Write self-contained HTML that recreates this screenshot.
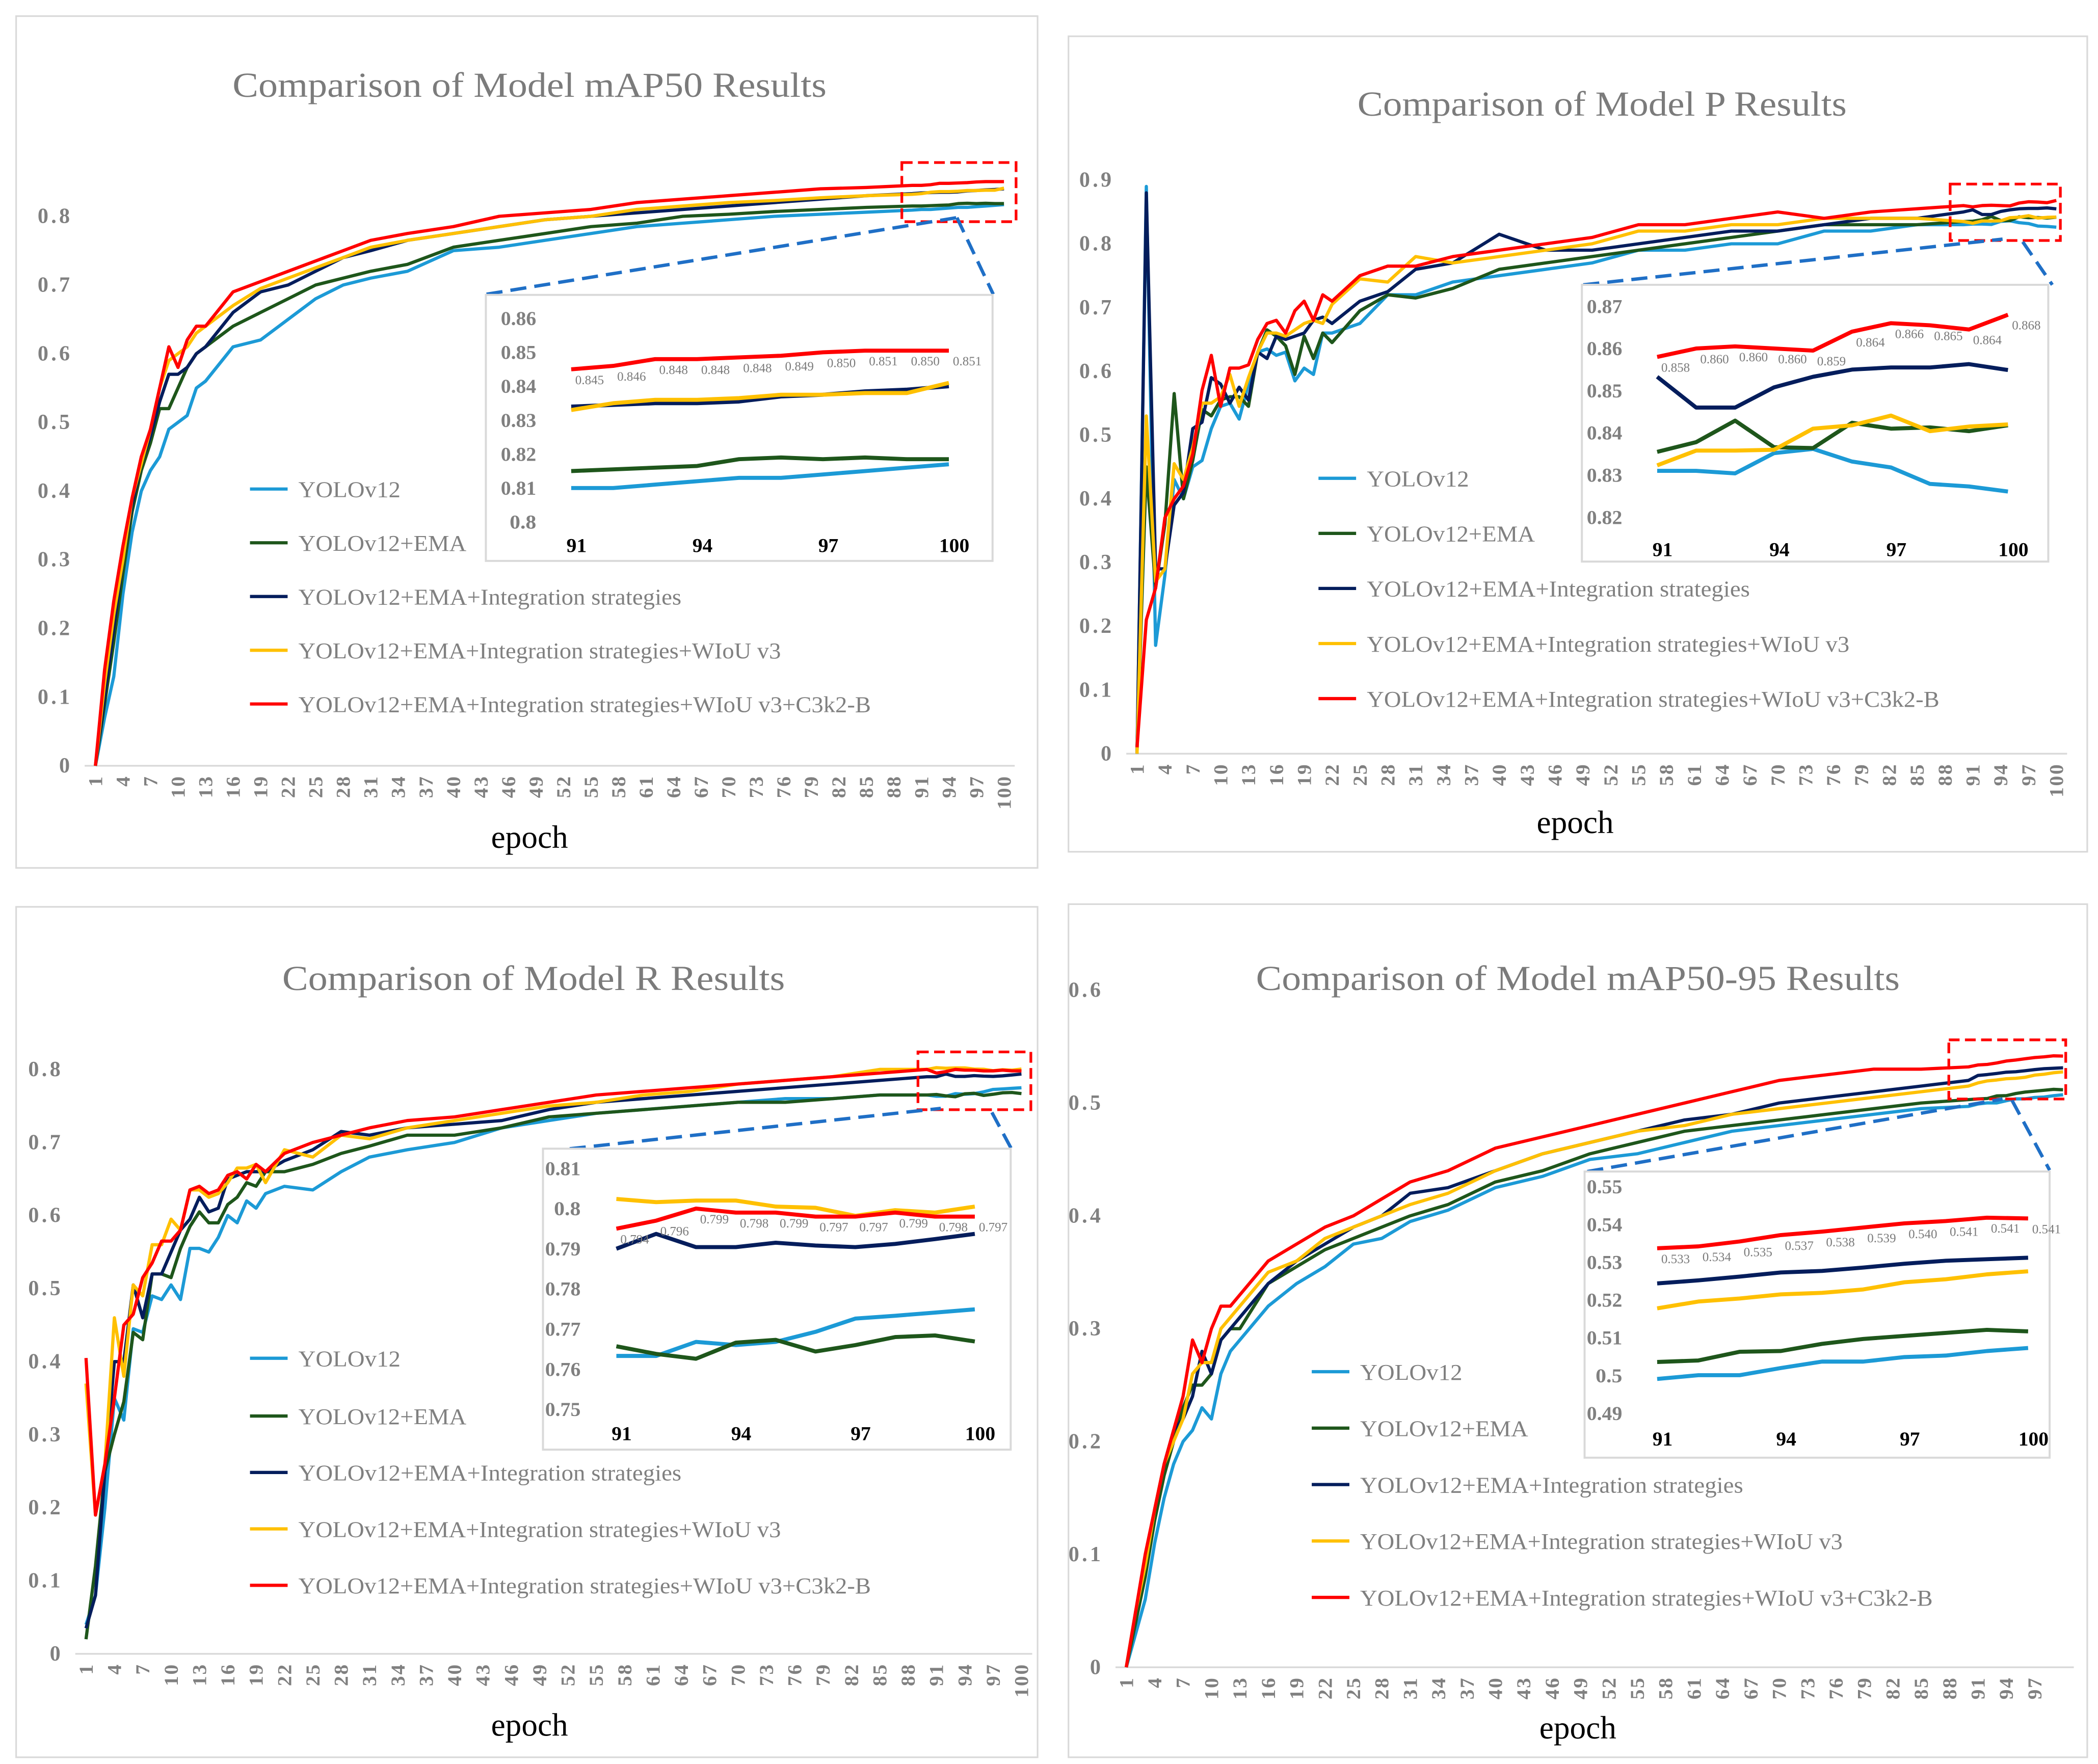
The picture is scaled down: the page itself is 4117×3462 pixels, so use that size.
<!DOCTYPE html>
<html><head><meta charset="utf-8">
<style>
html,body{margin:0;padding:0;background:#fff;}
svg{display:block;}
text{font-family:"Liberation Serif",serif;}
</style></head>
<body>
<svg id="fig" xmlns="http://www.w3.org/2000/svg" width="4117" height="3462" viewBox="0 0 1561 1313" preserveAspectRatio="none"></svg>
<script>
// ---------- shared ----------
const seriesNames = ["YOLOv12","YOLOv12+EMA","YOLOv12+EMA+Integration strategies","YOLOv12+EMA+Integration strategies+WIoU v3","YOLOv12+EMA+Integration strategies+WIoU v3+C3k2-B"];
const insetEpochs = [91,92,93,94,95,96,97,98,99,100];
const insetXTicks = [91,94,97,100];

// ---------- mAP50 ----------
const map50Epochs = [1,2,3,4,5,6,7,8,9,10,11,12,13,16,19,22,25,28,31,35,40,45,50,55,60,65,70,75,80,85,90];
const map50Blue   = [0,.07,.13,.25,.34,.40,.43,.45,.49,.50,.51,.55,.56,.61,.62,.65,.68,.70,.71,.72,.75,.755,.765,.775,.785,.79,.795,.80,.803,.806,.809];
const map50Green  = [0,.09,.18,.28,.37,.43,.47,.52,.52,.55,.58,.60,.61,.64,.66,.68,.70,.71,.72,.73,.755,.765,.775,.785,.79,.80,.803,.807,.81,.813,.815];
const map50Navy   = [0,.10,.20,.30,.38,.44,.48,.53,.57,.57,.58,.60,.61,.66,.69,.70,.72,.74,.75,.765,.775,.785,.795,.80,.805,.81,.815,.82,.825,.83,.833];
const map50Yellow = [0,.12,.22,.30,.39,.44,.49,.55,.59,.60,.61,.63,.64,.67,.695,.71,.725,.74,.755,.765,.775,.785,.795,.80,.81,.815,.82,.823,.827,.83,.832];
const map50Red    = [0,.14,.24,.32,.39,.45,.49,.55,.61,.58,.62,.64,.64,.69,.705,.72,.735,.75,.765,.775,.785,.80,.805,.81,.82,.825,.83,.835,.84,.842,.845];
const map50InsetBlue   = [.810,.810,.811,.812,.813,.813,.814,.815,.816,.817];
const map50InsetGreen  = [.815,.8155,.816,.8165,.8185,.819,.8185,.819,.8185,.8185];
const map50InsetNavy   = [.834,.8345,.835,.835,.8355,.837,.8375,.8385,.839,.840];
const map50InsetYellow = [.833,.835,.836,.836,.8365,.8375,.8375,.838,.838,.841];
const map50InsetRed    = [.845,.846,.848,.848,.8485,.849,.850,.8505,.8505,.8505];
const map50RedLabels   = ["0.845","0.846","0.848","0.848","0.848","0.849","0.850","0.851","0.850","0.851"];
const map50YTicks = [0,.1,.2,.3,.4,.5,.6,.7,.8];
const map50InsetYTicks = [.80,.81,.82,.83,.84,.85,.86];

// ---------- P ----------
const pEpochs = [1,2,3,4,5,6,7,8,9,10,11,12,13,14,15,16,17,18,19,20,21,22,25,28,31,35,40,45,50,55,60,65,70,75,80,85,90];
const pBlue   = [0,.89,.17,.28,.43,.40,.45,.46,.51,.545,.55,.525,.58,.63,.635,.625,.63,.585,.605,.595,.66,.66,.675,.72,.72,.74,.75,.76,.77,.79,.79,.80,.80,.82,.82,.83,.83];
const pGreen  = [.01,.45,.26,.36,.565,.40,.46,.54,.53,.555,.56,.56,.545,.63,.665,.655,.64,.595,.655,.62,.66,.645,.695,.72,.715,.73,.76,.77,.78,.79,.80,.81,.82,.83,.83,.83,.835];
const pNavy   = [0,.88,.29,.29,.39,.41,.51,.52,.59,.58,.55,.575,.555,.63,.62,.655,.65,.655,.66,.68,.685,.675,.71,.725,.76,.77,.815,.79,.79,.80,.81,.82,.82,.83,.84,.84,.85];
const pYellow = [0,.53,.27,.29,.455,.43,.48,.55,.55,.56,.595,.545,.59,.63,.66,.66,.655,.665,.675,.68,.675,.705,.745,.74,.78,.77,.78,.79,.80,.82,.82,.83,.83,.84,.84,.84,.835];
const pRed    = [.01,.21,.26,.37,.40,.42,.47,.57,.625,.545,.605,.605,.61,.65,.675,.68,.66,.695,.71,.68,.72,.71,.75,.765,.765,.78,.79,.80,.81,.83,.83,.84,.85,.84,.85,.855,.86];
const pInsetBlue   = [.831,.831,.8304,.8352,.8362,.8332,.8318,.8279,.8273,.8261];
const pInsetGreen  = [.8355,.8378,.8429,.8366,.8364,.8424,.8410,.8413,.8404,.8418];
const pInsetNavy   = [.8533,.846,.846,.8508,.8533,.855,.8555,.8555,.8563,.8549];
const pInsetYellow = [.8323,.8358,.8358,.836,.841,.8418,.8441,.8404,.8415,.842];
const pInsetRed    = [.858,.860,.8605,.860,.8595,.864,.866,.8655,.8645,.868];
const pRedLabels   = ["0.858","0.860","0.860","0.860","0.859","0.864","0.866","0.865","0.864","0.868"];
const pYTicks = [0,.1,.2,.3,.4,.5,.6,.7,.8,.9];
const pInsetYTicks = [.82,.83,.84,.85,.86,.87];

// ---------- R ----------
const rEpochs = [1,2,3,4,5,6,7,8,9,10,11,12,13,14,15,16,17,18,19,20,22,25,28,31,35,40,45,50,55,60,65,70,75,80,85,90];
const rBlue   = [.04,.08,.20,.35,.32,.445,.44,.49,.485,.505,.485,.555,.555,.55,.57,.60,.59,.62,.61,.63,.64,.635,.66,.68,.69,.70,.72,.73,.74,.745,.75,.755,.76,.76,.765,.765];
const rGreen  = [.02,.12,.25,.30,.345,.44,.43,.52,.52,.515,.555,.585,.605,.59,.59,.615,.625,.645,.64,.66,.66,.67,.685,.695,.71,.71,.72,.735,.74,.745,.75,.755,.755,.76,.765,.765];
const rNavy   = [.035,.08,.25,.40,.40,.505,.46,.52,.52,.55,.58,.595,.625,.605,.61,.65,.655,.66,.66,.66,.675,.69,.715,.71,.72,.725,.73,.745,.755,.76,.765,.77,.775,.78,.785,.79];
const rYellow = [.37,.19,.26,.46,.38,.505,.49,.56,.56,.595,.58,.635,.635,.625,.63,.645,.665,.665,.67,.645,.69,.68,.71,.705,.72,.73,.74,.75,.755,.765,.77,.78,.785,.79,.80,.80];
const rRed    = [.405,.19,.26,.35,.45,.465,.515,.535,.565,.565,.58,.635,.64,.63,.635,.655,.66,.65,.67,.66,.685,.70,.71,.72,.73,.735,.745,.755,.765,.77,.775,.78,.785,.79,.795,.80];
const rInsetBlue   = [.7633,.7633,.7668,.766,.7668,.7693,.7726,.7733,.7741,.7749];
const rInsetGreen  = [.7657,.7638,.7626,.7666,.7673,.7644,.766,.768,.7684,.7669];
const rInsetNavy   = [.790,.7937,.7904,.7904,.7915,.7908,.7904,.7912,.7924,.7937];
const rInsetYellow = [.8024,.8016,.802,.802,.8005,.8002,.7982,.7996,.799,.8005];
const rInsetRed    = [.795,.797,.800,.799,.799,.798,.798,.799,.798,.798];
const rRedLabels   = ["0.794","0.796","0.799","0.798","0.799","0.797","0.797","0.799","0.798","0.797"];
const rYTicks = [0,.1,.2,.3,.4,.5,.6,.7,.8];
const rInsetYTicks = [.75,.76,.77,.78,.79,.80,.81];

// ---------- mAP50-95 ----------
const m95Epochs = [1,2,3,4,5,6,7,8,9,10,11,12,13,16,19,22,25,28,31,35,40,45,50,55,60,65,70,75,80,85,90];
const m95Blue   = [0,.03,.06,.11,.15,.18,.20,.21,.23,.22,.26,.28,.29,.32,.34,.355,.375,.38,.395,.405,.425,.435,.45,.455,.465,.475,.48,.485,.49,.495,.497];
const m95Green  = [0,.04,.08,.13,.17,.20,.23,.25,.25,.26,.29,.30,.30,.34,.355,.37,.38,.39,.40,.41,.43,.44,.455,.465,.475,.48,.485,.49,.495,.50,.503];
const m95Navy   = [0,.05,.09,.14,.18,.21,.22,.24,.28,.26,.29,.30,.31,.34,.36,.375,.39,.40,.42,.425,.44,.455,.465,.475,.485,.49,.50,.505,.51,.515,.52];
const m95Yellow = [0,.05,.09,.14,.18,.20,.22,.26,.27,.27,.30,.31,.32,.35,.36,.38,.39,.40,.41,.42,.44,.455,.465,.475,.48,.49,.495,.50,.505,.51,.515];
const m95Red    = [0,.05,.10,.14,.18,.21,.24,.29,.27,.30,.32,.32,.33,.36,.375,.39,.40,.415,.43,.44,.46,.47,.48,.49,.50,.51,.52,.525,.53,.53,.532];
const m95InsetBlue   = [.4991,.5001,.5001,.502,.5037,.5037,.5049,.5053,.5065,.5073];
const m95InsetGreen  = [.5036,.504,.5063,.5065,.5084,.5097,.5105,.5113,.5121,.5117];
const m95InsetNavy   = [.5244,.5252,.5262,.5273,.5277,.5286,.5296,.5304,.5308,.5312];
const m95InsetYellow = [.5178,.5196,.5204,.5215,.5219,.5228,.5247,.5255,.5268,.5276];
const m95InsetRed    = [.5337,.5342,.5355,.5372,.5381,.5392,.5403,.5409,.5418,.5416];
const m95RedLabels   = ["0.533","0.534","0.535","0.537","0.538","0.539","0.540","0.541","0.541","0.541"];
const m95YTicks = [0,.1,.2,.3,.4,.5,.6];
const m95InsetYTicks = [.49,.50,.51,.52,.53,.54,.55];

// ---------- drawing ----------
const NS = "http://www.w3.org/2000/svg";
const svg = document.getElementById("fig");
const colors = ["#1c9ad6","#1e561b","#041d5c","#ffc000","#ff0000"];
const colorNames = ["blue","green","navy","yellow","red"];
function mk(tag, attrs, parent){
  const el = document.createElementNS(NS, tag);
  for (const k in attrs) el.setAttribute(k, attrs[k]);
  (parent || svg).appendChild(el);
  return el;
}
function fmt(v){ return String(+v.toFixed(2)); }

function drawChart(c, epochs, series, insetSeries, redLabels, yTicks, insetYTicks){
  const g = mk("g", {});
  
  
  const X = e => c.x0 + (e - 1) * (c.x1 - c.x0) / 99;
  const Y = v => c.y0 - v * c.ys;
  const IX = e => c.ix0 + (e - 91) * (c.ix1 - c.ix0) / 9;
  const IY = v => c.iyTop + (c.ivTop - v) * (c.iyBot - c.iyTop) / (c.ivTop - c.ivBot);

  const frame = mk("rect", {x:c.fx, y:c.fy, width:c.fw, height:c.fh, fill:"#fff", stroke:"#d9d9d9", "stroke-width":1.2}, g);
  
  

  const title = mk("text", {x:c.tx, y:c.ty, "text-anchor":"middle", "font-size":26, fill:"#7b7b7b", textLength:c.tw, lengthAdjust:"spacingAndGlyphs"}, g);
  title.textContent = c.title;
  
  

  // baseline
  const base = mk("line", {x1:X(1)-8, x2:X(100)+8, y1:c.y0, y2:c.y0, stroke:"#d9d9d9", "stroke-width":1.3}, g);
  
  

  yTicks.forEach(v => {
    const t = mk("text", {x:c.ylx, y:Y(v)+5, "text-anchor":"end", "font-size":16, "font-weight":"bold", fill:"#808080", "letter-spacing":2}, g);
    t.textContent = fmt(v);
    
    
  });
  const lastTick = c.lastTick;
  for (let e = 1; e <= lastTick; e += 3){
    const t = mk("text", {transform:`translate(${X(e)+5},${c.y0+7}) rotate(-90)`, "text-anchor":"end", "font-size":15, "font-weight":"bold", fill:"#808080", "letter-spacing":1}, g);
    t.textContent = String(e);
    
    
  }
  const xt = mk("text", {x:c.ex, y:c.ey, "text-anchor":"middle", "font-size":24, fill:"#000"}, g);
  xt.textContent = "epoch";
  
  

  // series
  const allE = epochs.concat(insetEpochs);
  series.forEach((vals, i) => {
    const all = vals.concat(insetSeries[i]);
    const pts = allE.map((e, j) => X(e).toFixed(2) + "," + Y(all[j]).toFixed(2)).join(" ");
    const pl = mk("polyline", {points:pts, fill:"none", stroke:colors[i], "stroke-width":2.4, "stroke-linejoin":"round"}, g);
    
    
  });

  // legend
  c.legY.forEach((ly, i) => {
    const ln = mk("line", {x1:c.lx, x2:c.lx+28, y1:ly, y2:ly, stroke:colors[i], "stroke-width":2.4}, g);
    
    
    const lt = mk("text", {x:c.lx+36, y:ly+6, "font-size":17, fill:"#808080", textLength:[76,125,285,359,426][i], lengthAdjust:"spacingAndGlyphs"}, g);
    lt.textContent = seriesNames[i];
    
    
  });

  // zoom markers
  const rr = mk("rect", {x:c.rx, y:c.ry, width:c.rw, height:c.rh, fill:"none", stroke:"#ff0000", "stroke-width":2, "stroke-dasharray":"8,4"}, g);
  
  
  c.dl.forEach(d => {
    const l = mk("line", {x1:d[0], y1:d[1], x2:d[2], y2:d[3], stroke:"#1f6fc6", "stroke-width":2.5, "stroke-dasharray":"12,6"}, g);
    
    
  });

  // inset
  const ig = mk("g", {}, g);
  
  
  const ib = mk("rect", {x:c.bx, y:c.by, width:c.bw, height:c.bh, fill:"#fff", stroke:"#d9d9d9", "stroke-width":1.5}, ig);
  
  
  insetYTicks.forEach(v => {
    const t = mk("text", {x:c.iylx, y:IY(v)+5, "text-anchor":"end", "font-size":15, "font-weight":"bold", fill:"#808080", textLength:fmt(v).length*6.6, lengthAdjust:"spacingAndGlyphs"}, ig);
    t.textContent = fmt(v);
    
    
  });
  insetXTicks.forEach(e => {
    const t = mk("text", {x:IX(e)+4, y:c.ixly, "text-anchor":"middle", "font-size":15, "font-weight":"bold", fill:"#000"}, ig);
    t.textContent = String(e);
    
    
  });
  insetSeries.forEach((vals, i) => {
    const pts = insetEpochs.map((e, j) => IX(e).toFixed(2) + "," + IY(vals[j]).toFixed(2)).join(" ");
    const pl = mk("polyline", {points:pts, fill:"none", stroke:colors[i], "stroke-width":3, "stroke-linejoin":"round"}, ig);
    
    
  });
  redLabels.forEach((s, j) => {
    const t = mk("text", {x:IX(insetEpochs[j]) + 3, y:IY(insetSeries[4][j]) + 11, "font-size":9.5, fill:"#7b7b7b"}, ig);
    t.textContent = s;
    
    
  });
}

drawChart({name:"map50", title:"Comparison of Model mAP50 Results", fx:12, fy:12, fw:760, fh:634, tx:394, ty:72, tw:442,
  x0:71, x1:747, y0:570, ys:511.25, ylx:54, lastTick:100, ex:394, ey:631,
  lx:186, legY:[364,404,444,484,524],
  bx:361.5, by:219.5, bw:377, bh:198, ix0:425, ix1:706, iyTop:237, ivTop:.86, iyBot:388.5, ivBot:.80, iylx:399, ixly:411,
  rx:671, ry:121, rw:85, rh:44, dl:[[362,219,712,162],[712,162,739,219]]},
  map50Epochs, [map50Blue,map50Green,map50Navy,map50Yellow,map50Red],
  [map50InsetBlue,map50InsetGreen,map50InsetNavy,map50InsetYellow,map50InsetRed], map50RedLabels, map50YTicks, map50InsetYTicks);

drawChart({name:"precision", title:"Comparison of Model P Results", fx:795, fy:27, fw:758, fh:607, tx:1192, ty:86, tw:364,
  x0:846, x1:1530, y0:561, ys:474.4, ylx:829, lastTick:100, ex:1172, ey:620,
  lx:981, legY:[356,397,438,479,520],
  bx:1177, by:212, bw:347, bh:206, ix0:1233, ix1:1494, iyTop:228, ivTop:.87, iyBot:385, ivBot:.82, iylx:1207, ixly:414,
  rx:1451, ry:137, rw:82, rh:42, dl:[[1178,212,1490,178],[1505,180,1527,212]]},
  pEpochs, [pBlue,pGreen,pNavy,pYellow,pRed],
  [pInsetBlue,pInsetGreen,pInsetNavy,pInsetYellow,pInsetRed], pRedLabels, pYTicks, pInsetYTicks);

drawChart({name:"recall", title:"Comparison of Model R Results", fx:12, fy:675, fw:760, fh:633, tx:397, ty:737, tw:374,
  x0:64, x1:760, y0:1231, ys:543.75, ylx:47, lastTick:100, ex:394, ey:1292,
  lx:186, legY:[1011,1054,1096,1138,1180],
  bx:404, by:855, bw:348, bh:224, ix0:458.6, ix1:725.3, iyTop:869.7, ivTop:.81, iyBot:1049, ivBot:.75, iylx:432, ixly:1072,
  rx:683, ry:783, rw:84, rh:43, dl:[[406,857,700,825],[738,828,753,856]]},
  rEpochs, [rBlue,rGreen,rNavy,rYellow,rRed],
  [rInsetBlue,rInsetGreen,rInsetNavy,rInsetYellow,rInsetRed], rRedLabels, rYTicks, rInsetYTicks);

drawChart({name:"map50-95", title:"Comparison of Model mAP50-95 Results", fx:795, fy:673, fw:758, fh:635, tx:1174, ty:737, tw:479,
  x0:838, x1:1535, y0:1241, ys:840, ylx:821, lastTick:97, ex:1174, ey:1294,
  lx:976, legY:[1021,1063,1105,1147,1189],
  bx:1179, by:872, bw:346, bh:213, ix0:1233, ix1:1509, iyTop:883.3, ivTop:.55, iyBot:1052, ivBot:.49, iylx:1207, ixly:1076,
  rx:1450, ry:774, rw:87, rh:44, dl:[[1181,872,1490,818],[1497,819,1525,871]]},
  m95Epochs, [m95Blue,m95Green,m95Navy,m95Yellow,m95Red],
  [m95InsetBlue,m95InsetGreen,m95InsetNavy,m95InsetYellow,m95InsetRed], m95RedLabels, m95YTicks, m95InsetYTicks);
</script>
</body></html>
